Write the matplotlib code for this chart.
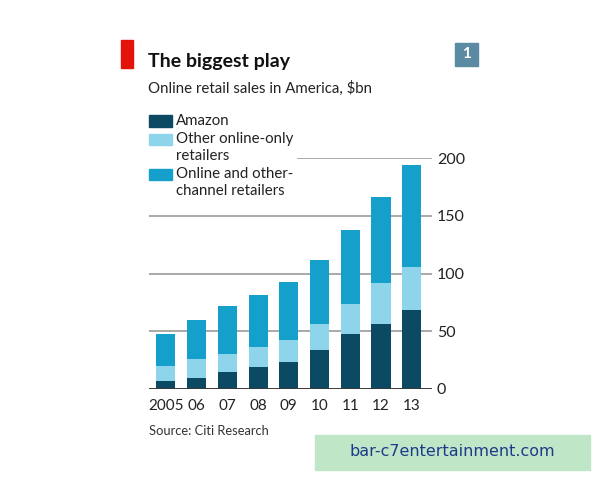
import matplotlib.pyplot as plt
import numpy as np
from matplotlib.patches import Rectangle

# DATA
years = ["2005", "06", "07", "08", "09", "10", "11", "12", "13"]
amazon = [7.2, 9.8, 14.4, 18.7, 23.3, 33.7, 47.8, 55.9, 68.0]
online_only = [13.0, 15.8, 16.1, 17.6, 19.1, 23.0, 25.4, 36.0, 37.2]
multichannel = [27.3, 34.3, 41.5, 44.9, 50.1, 54.8, 64.8, 74.6, 89.0]
y_ticks = [0, 50, 100, 150, 200]

# COLOURS
C_AMAZON = "#0c4a63"
C_ONLY = "#8ed5ec"
C_MULTI = "#159fcb"
C_GRID = "#a3a3a3"

plt.rcParams["font.family"] = ["Lato", "DejaVu Sans"]

fig = plt.figure(figsize=(6, 4.8), dpi=100)
fig.patch.set_facecolor("white")

# axes: left 149px, right 432px, bottom y=0 at 389px, top y=200 at 158px
ax = fig.add_axes([149 / 600, 1 - 389 / 480, 283 / 600, 231 / 480])

x = np.arange(len(years))
amazon = np.array(amazon)
online_only = np.array(online_only)
multichannel = np.array(multichannel)
w = 0.62

# gridlines (200 line stops short of the legend)
for yv in [50, 100, 150]:
    ax.axhline(yv, color=C_GRID, lw=1.3, zorder=1)
ax.axhline(200, xmin=0.527, xmax=1, color=C_GRID, lw=1.3, zorder=1)

ax.bar(x, amazon, w, color=C_AMAZON, zorder=2)
ax.bar(x, online_only, w, bottom=amazon, color=C_ONLY, zorder=2)
ax.bar(x, multichannel, w, bottom=amazon + online_only, color=C_MULTI, zorder=2)
ax.axhline(0, color="#3a3a3a", lw=1.4, zorder=3)

ax.set_xlim(-0.55, 8.66)
ax.set_ylim(0, 200)
ax.set_xticks(x)
ax.set_xticklabels(years, fontsize=11, color="#222222")
ax.set_yticks(y_ticks)
ax.set_yticklabels([str(v) for v in y_ticks], fontsize=11.5, color="#222222")
ax.yaxis.tick_right()
ax.tick_params(axis="both", length=0)
ax.tick_params(axis="y", pad=3.5)
ax.tick_params(axis="x", pad=7)
for s in ax.spines.values():
    s.set_visible(False)
ax.patch.set_alpha(0)

# header
fig.patches.append(Rectangle((121 / 600, 1 - 68 / 480), 12 / 600, 28 / 480,
                             transform=fig.transFigure, color="#e3120b"))
fig.text(148 / 600, 1 - 62 / 480, "The biggest play", fontsize=14,
         fontweight="bold", va="center", ha="left", color="#111111")
fig.text(148 / 600, 1 - 88 / 480, "Online retail sales in America, $bn",
         fontsize=10.8, va="center", ha="left", color="#222222")
fig.patches.append(Rectangle((455 / 600, 1 - 66 / 480), 23 / 600, 23 / 480,
                             transform=fig.transFigure, color="#5b8aa3"))
fig.text(466.5 / 600, 1 - 54.5 / 480, "1", fontsize=11, color="white",
         ha="center", va="center", fontweight="bold")

# legend
legend_items = [
    (C_AMAZON, ["Amazon"], 121),
    (C_ONLY, ["Other online-only", "retailers"], 139.5),
    (C_MULTI, ["Online and other-", "channel retailers"], 174.5),
]
for col, lines, yc in legend_items:
    fig.patches.append(Rectangle((149 / 600, 1 - (yc + 5.5) / 480), 23 / 600, 11 / 480,
                                 transform=fig.transFigure, color=col))
    for i, ln in enumerate(lines):
        fig.text(176 / 600, 1 - (yc + i * 16.5) / 480, ln, fontsize=10.8,
                 va="center", ha="left", color="#222222")

fig.text(149 / 600, 1 - 431 / 480, "Source: Citi Research", fontsize=9.3,
         va="center", ha="left", color="#333333")

# watermark
fig.patches.append(Rectangle((315 / 600, 1 - 470 / 480), 275 / 600, 35 / 480,
                             transform=fig.transFigure, color="#bfe6c6"))
fig.text(452 / 600, 1 - 452 / 480, "bar-c7entertainment.com", fontsize=11.5,
         color="#1f3a8a", ha="center", va="center", family=["DejaVu Sans"])

fig.savefig("out.png", dpi=100)
